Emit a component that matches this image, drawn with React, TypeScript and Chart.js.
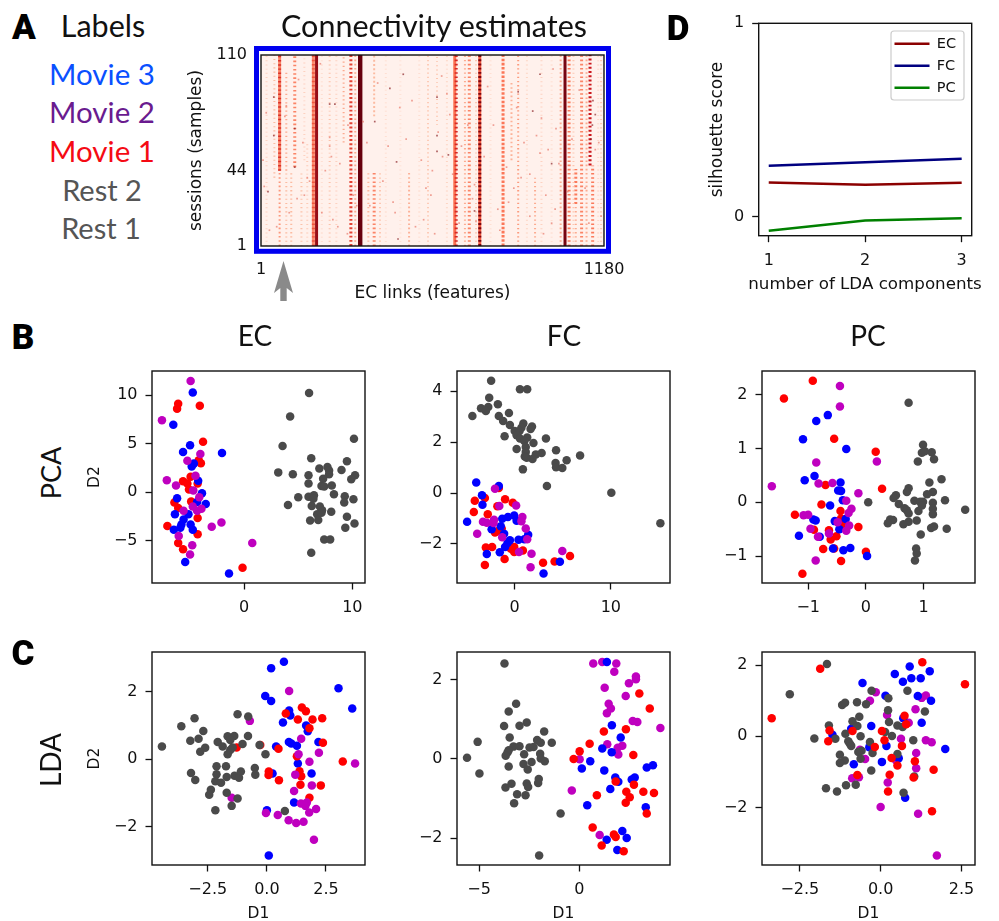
import React, { useEffect, useRef } from "react";
import { Chart, registerables } from "chart.js";

Chart.register(...registerables);

type Pt = number[];

// ---------- Panel B, EC ----------
const pcaEcRest: Pt[] = [[6.0,10.2],[4.25,7.8],[3.55,4.75],[10.15,5.5],[6.2,3.5],[9.5,3.2],[3.15,2.05],[4.5,1.85],[5.95,1.75],[6.95,2.45],[7.7,2.6],[7.85,2.25],[9.0,2.3],[7.85,1.85],[7.3,1.4],[10.25,1.75],[9.9,1.35],[5.95,0.9],[7.15,0.65],[7.4,0.6],[8.1,0.7],[8.3,-0.2],[5.0,-0.5],[5.95,-0.45],[6.45,-0.3],[6.4,-0.65],[9.3,-0.4],[10.1,-0.7],[9.25,-1.05],[4.05,-1.3],[6.25,-1.4],[7.0,-1.45],[7.2,-1.85],[8.05,-2.0],[6.75,-2.25],[9.5,-2.5],[6.1,-2.9],[6.85,-2.85],[10.2,-3.2],[9.35,-3.65],[7.4,-4.85],[7.95,-4.85],[6.2,-6.2],[7.15,-2.1]];
const pcaEcMovie1: Pt[] = [[-6.1,9.1],[-6.2,8.6],[-4.1,8.9],[-3.8,5.2],[-4.2,3.3],[-4.0,3.0],[-4.95,1.6],[-5.65,1.15],[-5.25,0.9],[-4.3,0.9],[-5.1,0.3],[-6.45,-1.05],[-6.1,-1.6],[-4.9,-0.95],[-4.3,-2.65],[-7.1,-3.45],[-4.3,-4.3],[-6.1,-5.2],[-5.65,-5.85],[-0.15,-7.75]];
const pcaEcMovie3: Pt[] = [[-4.75,10.25],[-6.55,6.95],[-5.0,4.85],[-5.65,4.15],[-2.05,4.05],[-4.65,2.95],[-4.85,2.65],[-4.25,1.2],[-3.9,-0.1],[-6.2,-0.6],[-4.35,-1.0],[-3.55,-1.2],[-6.4,-2.25],[-5.15,-2.25],[-5.6,-2.8],[-5.8,-3.3],[-4.95,-3.3],[-6.5,-3.85],[-5.9,-3.65],[-4.75,-3.85],[-5.45,-7.15],[-1.4,-8.35]];
const pcaEcMovie2: Pt[] = [[-4.95,11.45],[-7.6,7.4],[-5.25,3.25],[-4.05,3.95],[-7.15,1.25],[-6.3,0.7],[-4.5,1.7],[-4.7,0.2],[-4.15,-0.5],[-4.75,-1.45],[-3.95,-1.7],[-4.35,-1.9],[-5.6,-1.9],[-2.1,-3.1],[-3.0,-3.55],[-6.05,-4.5],[-4.8,-5.45],[-5.0,-6.4],[0.75,-5.2]];

// ---------- Panel B, FC ----------
const pcaFcRest: Pt[] = [[-2.45,4.42],[0.55,4.08],[1.3,4.08],[-2.65,3.75],[-1.75,3.49],[-3.5,3.33],[-2.75,3.38],[-3.0,3.23],[-4.4,3.03],[-0.6,3.15],[-1.65,3.03],[-1.2,2.83],[-0.5,2.68],[0.9,2.73],[0.7,2.57],[1.8,2.62],[1.65,2.52],[0,2.44],[0.5,2.44],[-1.05,2.23],[0.2,2.27],[0.55,2.14],[1.3,2.18],[3.25,2.14],[1.0,2.05],[1.95,1.97],[0.2,1.73],[1.15,1.81],[1.15,1.61],[4.3,1.68],[2.8,1.57],[2.2,1.52],[6.8,1.48],[1.05,1.44],[1.85,1.34],[1.25,1.39],[5.4,1.29],[4.25,1.18],[4.3,1.01],[4.95,0.98],[0.85,0.93],[3.35,0.28],[10.05,0.01],[15.15,-1.19]];
const pcaFcMovie1: Pt[] = [[-1.65,0.2],[-3.1,-0.2],[-4.15,-0.3],[-1.0,-0.25],[-0.2,-0.38],[-1.8,-0.52],[-4.25,-0.75],[-2.8,-0.84],[-2.05,-1.55],[-1.35,-1.4],[-3.0,-2.14],[-2.35,-2.12],[-0.05,-2.12],[-0.4,-2.19],[-0.05,-2.32],[0.85,-2.26],[-1.05,-2.6],[-3.1,-2.83],[2.95,-2.74],[4.15,-2.69],[5.75,-2.48],[-1.8,-1.5]];
const pcaFcMovie3: Pt[] = [[-4.0,0.41],[-1.65,0.28],[-3.4,-0.09],[-3.35,-0.46],[-4.95,-1.13],[-0.05,-0.88],[-0.7,-0.94],[-1.3,-1.01],[0.2,-1.09],[-1.45,-1.31],[-2.4,-1.43],[-1.1,-1.6],[1.4,-1.64],[0.4,-1.84],[1.0,-1.82],[-0.5,-1.86],[-0.75,-1.97],[-1.0,-2.12],[-1.55,-2.33],[-2.9,-2.4],[4.7,-2.7],[3.0,-3.17]];
const pcaFcMovie2: Pt[] = [[-2.05,0.17],[-1.6,-0.51],[0.15,-0.49],[0.8,-0.94],[-3.3,-1.13],[-2.9,-1.17],[-2.15,-1.05],[-2.2,-1.18],[0.7,-1.11],[1.15,-1.4],[-3.9,-1.6],[-1.3,-1.74],[1.3,-1.82],[0.45,-2.32],[1.75,-2.39],[4.95,-2.28],[1.65,-2.92]];

// ---------- Panel B, PC ----------
const pcaPcRest: Pt[] = [[0.74,1.85],[0.99,1.07],[1.14,0.93],[0.97,0.92],[1.02,0.95],[1.18,0.8],[0.9,0.76],[1.31,0.43],[1.1,0.37],[0.74,0.26],[0.71,0.19],[1.16,0.19],[1.06,0.15],[0.52,0.13],[0.48,0.08],[0.04,0],[0.84,0.03],[1.37,0.04],[1.16,-0.01],[0.99,0.01],[0.94,0.01],[0.57,-0.03],[0.97,-0.06],[0.91,-0.16],[0.67,-0.11],[0.71,-0.15],[1.16,-0.12],[1.72,-0.14],[0.74,-0.21],[1.16,-0.22],[0.42,-0.32],[0.47,-0.33],[0.38,-0.39],[0.88,-0.34],[0.74,-0.36],[0.65,-0.41],[1.18,-0.45],[1.13,-0.48],[1.4,-0.49],[0.95,-0.6],[0.87,-0.86],[0.88,-0.95],[0.85,-1.08]];
const pcaPcMovie1: Pt[] = [[-0.92,2.26],[-1.42,1.93],[-0.55,1.18],[0.17,0.94],[-0.7,0.32],[0.28,0.25],[-0.77,-0.04],[-1.23,-0.23],[-0.44,-0.16],[-0.43,-0.3],[-0.13,-0.46],[-0.9,-0.51],[-0.64,-0.52],[-0.51,-0.63],[-0.61,-0.69],[-0.74,-0.87],[-0.55,-0.86],[0,-0.92],[-0.43,-1.09],[-1.1,-1.33],[-0.38,-0.42]];
const pcaPcMovie3: Pt[] = [[-0.66,1.62],[-0.86,1.51],[-1.09,1.17],[-0.34,0.99],[-0.89,0.49],[-1.06,0.41],[-0.44,0.37],[-0.48,0.22],[-0.43,0.21],[-0.4,0.04],[-0.62,-0.06],[-0.91,-0.32],[-0.87,-0.34],[-0.54,-0.35],[-0.35,-0.31],[-0.46,-0.5],[-1.16,-0.62],[-0.8,-0.64],[-0.57,-0.86],[-0.39,-0.89],[-0.27,-0.85],[0.02,-1.0]];
const pcaPcMovie2: Pt[] = [[-0.45,2.16],[-0.45,1.78],[-0.86,0.74],[0.19,0.76],[-1.63,0.3],[-0.82,0.35],[-0.58,0.36],[-0.13,0.17],[-0.34,0.03],[-0.25,-0.12],[-0.3,-0.2],[-1.08,-0.24],[-1.0,-0.23],[-0.49,-0.37],[-0.29,-0.43],[-0.34,-0.53],[-0.96,-0.49],[-0.64,-0.58],[-0.83,-0.64],[-0.87,-1.08]];

// ---------- Panel C, EC ----------
const ldaEcRest: Pt[] = [[-4.44,0.38],[-3.62,0.98],[-3.06,1.22],[-2.69,0.84],[-2.89,0.61],[-3.24,0.55],[-2.61,0.34],[-2.82,0.22],[-2.08,0.51],[-1.87,0.38],[-1.66,0.68],[-1.38,0.69],[-1.55,0.57],[-1.24,1.34],[-0.79,1.27],[-0.8,0.69],[-1.03,0.45],[-1.45,0.35],[-1.55,0.27],[-1.66,0.15],[-0.31,0.42],[-0.06,0.15],[-2.13,-0.21],[-1.73,-0.21],[-3.21,-0.41],[-2.13,-0.45],[-3.03,-0.62],[-1.7,-0.53],[-2.18,-0.66],[-1.94,-0.7],[-1.37,-0.49],[-1.18,-0.55],[-1.1,-0.37],[-0.51,-0.26],[-0.49,-0.46],[-2.37,-0.91],[-2.44,-1.06],[-1.7,-1.0],[-1.24,-1.17],[-1.49,-1.39],[-2.18,-1.52],[0.76,-1.54]];
const ldaEcMovie1: Pt[] = [[-1.28,0.35],[-0.28,0.42],[0.49,0.31],[0.8,1.36],[1.48,1.54],[1.65,1.43],[1.31,1.18],[1.93,1.18],[2.34,1.22],[1.8,0.92],[2.37,0.49],[1.27,0.09],[3.21,-0.07],[0.08,-0.37],[0.07,-0.47],[0.51,-0.63],[1.38,-0.36],[1.45,-0.51],[1.42,-0.76],[2.28,-0.78],[1.8,-1.15]];
const ldaEcMovie3: Pt[] = [[0.72,2.9],[0.18,2.71],[3.03,2.11],[-0.07,1.88],[0.18,1.73],[3.61,1.51],[0.94,1.45],[0.99,1.3],[0.68,1.09],[1.66,1.0],[1.73,0.83],[0.93,0.51],[1.03,0.47],[1.27,0.4],[2.18,0.51],[0.39,0.38],[1.31,-0.13],[0.24,-0.43],[1.89,-0.43],[1.15,-1.29],[0,-1.52],[0.08,-2.87]];
const ldaEcMovie2: Pt[] = [[-0.72,1.14],[0.94,2.03],[1.45,0.61],[1.34,0.15],[2.2,0.19],[1.8,-0.08],[3.73,-0.13],[1.2,-0.46],[1.9,-0.78],[1.15,-0.95],[-1.49,-1.15],[1.44,-1.32],[1.69,-1.29],[1.63,-1.39],[2.08,-1.48],[-0.04,-1.6],[0.46,-1.66],[1.79,-1.59],[0.92,-1.82],[1.24,-1.9],[1.55,-1.86],[1.99,-2.4]];

// ---------- Panel C, FC ----------
const ldaFcRest: Pt[] = [[-3.73,2.41],[-3.15,1.39],[-3.52,1.2],[-2.62,0.92],[-3.75,0.83],[-2.98,0.84],[-1.75,0.69],[-3.47,0.54],[-5.07,0.43],[-2.1,0.48],[-1.92,0.41],[-1.37,0.41],[-3.28,0.31],[-2.98,0.32],[-2.48,0.29],[-2.28,0.3],[-3.52,0.22],[-3.58,0.16],[-3.67,0.08],[-2.75,0.12],[-1.95,0.13],[-5.6,0.03],[-1.92,0.01],[-1.72,-0.06],[-2.38,-0.08],[-2.78,-0.13],[-3.52,-0.19],[-2.57,-0.27],[-4.98,-0.37],[-2.02,-0.51],[-2.05,-0.61],[-3.38,-0.63],[-3.68,-0.72],[-2.62,-0.62],[-2.55,-0.71],[-3.1,-0.89],[-2.68,-0.92],[-3.25,-1.12],[-0.93,-1.38],[-2.0,-2.44]];
const ldaFcMovie1: Pt[] = [[3.0,1.65],[3.52,1.27],[2.33,0.75],[1.23,0.69],[0.52,0.38],[0.02,0.19],[-0.28,0],[2.7,0.1],[1.82,-0.57],[2.73,-0.65],[0.88,-0.92],[2.35,-0.83],[2.52,-0.97],[3.2,-0.83],[3.73,-0.86],[2.32,-1.11],[3.37,-1.38],[0.67,-1.73],[1.73,-1.91],[1.82,-1.97],[1.12,-2.19],[2.22,-2.33]];
const ldaFcMovie3: Pt[] = [[1.38,2.45],[1.63,0.85],[2.07,0.54],[1.15,0.26],[1.62,0.17],[0.55,-0.06],[0.13,-0.24],[1.25,-0.29],[3.37,-0.22],[3.68,-0.16],[1.8,-0.47],[1.95,-0.58],[2.62,-0.52],[2.77,-0.47],[1.55,-0.76],[0.4,-1.17],[3.32,-1.22],[2.15,-1.82],[2.37,-2.0],[1.37,-2.04],[1.9,-2.3]];
const ldaFcMovie2: Pt[] = [[0.7,2.41],[1.15,2.45],[1.85,2.41],[1.75,2.2],[2.83,2.08],[2.83,2.01],[2.48,1.91],[1.27,1.8],[2.32,1.59],[1.47,1.39],[1.58,1.27],[1.38,1.15],[2.67,0.96],[2.9,0.93],[4.05,0.78],[1.4,0.37],[2.15,0.33],[1.92,0.28],[1.95,0.11],[0.02,-0.01],[-0.37,-0.8],[1.02,-1.92]];

// ---------- Panel C, PC ----------
const ldaPcRest: Pt[] = [[-1.66,2.03],[-2.81,1.18],[-0.28,1.28],[0.83,1.28],[0.24,1.07],[-1.19,0.88],[-1.1,0.94],[-0.73,0.96],[-0.45,0.9],[0.23,0.73],[1.37,0.7],[-0.66,0.55],[-0.87,0.42],[0.26,0.4],[-0.72,0.29],[-1.6,0.3],[0.52,0.3],[0.68,0.26],[0.14,0.12],[-1.09,0.07],[-0.62,0],[0.35,0.01],[-2.05,-0.06],[-1.4,-0.07],[-1.0,-0.14],[-0.95,-0.21],[-0.91,-0.27],[1.01,-0.11],[-0.33,-0.16],[-0.59,-0.41],[-0.69,-0.44],[-0.25,-0.47],[-1.26,-0.52],[0.52,-0.5],[-1.11,-0.68],[-1.26,-0.75],[-0.62,-0.63],[-0.29,-0.96],[1.04,-1.13],[-1.69,-1.46],[-1.35,-1.55],[-1.07,-1.38],[-0.77,-1.36],[0.71,-1.59]];
const ldaPcMovie1: Pt[] = [[-1.87,1.9],[-3.37,0.51],[1.29,2.08],[2.61,1.46],[0.74,0.58],[0.79,0.34],[-1.58,0.16],[-0.87,0.15],[0.04,0.15],[-1.62,-0.14],[0.12,-0.11],[-0.18,-0.3],[0.66,-0.27],[0.34,-0.61],[1.06,-0.7],[0.52,-0.82],[1.64,-0.94],[-0.72,-1.09],[0.28,-1.08],[1.02,-1.16],[0.23,-1.55],[1.59,-2.11]];
const ldaPcMovie3: Pt[] = [[0.9,1.96],[1.52,1.83],[0.44,1.75],[0.95,1.63],[1.24,1.63],[0.69,1.53],[-0.56,1.5],[0.15,1.14],[1.15,1.13],[1.56,1.0],[0.7,0.51],[1.27,0.38],[-0.29,0.29],[-0.91,0.21],[-1.49,0.04],[0.18,-0.27],[2.0,-0.36],[-0.35,-0.31],[0.56,-0.62],[0.04,-0.72],[-0.83,-0.79],[0.76,-1.73]];
const ldaPcMovie2: Pt[] = [[-0.15,1.24],[-0.33,1.0],[1.4,1.15],[1.27,1.08],[1.08,0.76],[0.2,0.6],[0.87,0.38],[0.63,-0.07],[1.4,-0.11],[1.58,-0.17],[-0.64,-0.38],[1.1,-0.47],[-0.48,-0.64],[0.48,-0.68],[1.1,-0.9],[-0.88,-1.18],[-0.67,-1.15],[0.22,-1.3],[0,-1.99],[1.16,-2.18],[1.74,-3.35]];

// ---------- Panel D ----------
const ldaComponents = [1, 2, 3];
const silhouetteEc = [0.176, 0.164, 0.174];
const silhouetteFc = [0.262, 0.28, 0.299];
const silhouettePc = [-0.074, -0.021, -0.009];

// ---------- Panel A, heat map ----------
const stripeFeature = [65, 65, 65, 47, 88, 88, 117, 181, 181, 192, 237, 285, 310, 342, 390, 390, 370, 410, 510, 545, 575, 606, 667, 672, 702, 717, 753, 753, 833, 862, 885, 943, 1031, 1046, 1060, 1083, 1083, 1103, 1132, 1141, 1160, 20, 105, 140, 160, 150, 210, 260, 325, 430, 480, 640, 740, 790, 915, 965, 1000, 1075, 1120, 1170];
const stripeFrom = [44, 44, 1, 40, 44, 1, 46, 1, 1, 1, 1, 60, 1, 1, 75, 1, 1, 1, 1, 1, 1, 70, 1, 1, 1, 1, 1, 1, 1, 50, 1, 1, 1, 1, 1, 25, 1, 1, 47, 1, 1, 1, 1, 1, 1, 50, 1, 1, 1, 1, 1, 1, 1, 1, 1, 1, 1, 1, 1, 1];
const stripeTo = [110, 110, 44, 110, 100, 44, 110, 110, 110, 110, 110, 110, 110, 110, 110, 44, 44, 44, 44, 110, 110, 110, 110, 110, 110, 110, 110, 110, 110, 95, 110, 40, 110, 110, 110, 45, 25, 110, 110, 47, 110, 110, 44, 44, 60, 110, 110, 110, 110, 110, 110, 110, 110, 110, 110, 110, 110, 110, 110, 110];
const stripeLevel = [0.42, 0.68, 0.36, 0.25, 0.3, 0.25, 0.42, 0.4, 0.56, 0.88, 0.22, 0.3, 0.62, 1, 0.25, 0.42, 0.25, 0.2, 0.28, 0.12, 0.18, 0.2, 0.48, 0.7, 0.3, 0.42, 0.55, 0.95, 0.46, 0.28, 0.35, 0.3, 0.3, 0.96, 0.45, 0.45, 0.3, 0.42, 0.75, 0.45, 0.15, 0.15, 0.25, 0.22, 0.18, 0.15, 0.12, 0.15, 0.3, 0.12, 0.1, 0.14, 0.2, 0.12, 0.14, 0.15, 0.12, 0.2, 0.3, 0.2];
const stripeCover = [1, 0.45, 0.5, 0.35, 0.4, 0.35, 0.5, 1, 0.45, 1, 0.3, 0.4, 0.6, 1, 0.6, 0.5, 0.4, 0.4, 0.5, 0.25, 0.4, 0.3, 1, 0.5, 0.4, 0.5, 1, 0.6, 0.8, 0.5, 0.4, 0.4, 0.5, 1, 0.5, 0.6, 0.4, 0.5, 0.6, 0.5, 0.25, 0.3, 0.4, 0.35, 0.3, 0.3, 0.25, 0.3, 0.5, 0.25, 0.25, 0.3, 0.35, 0.25, 0.3, 0.3, 0.25, 0.35, 0.5, 0.35];
const darkSpeckFeature = [45, 45, 25, 237, 255, 117, 117, 392, 444, 490, 467, 472, 606, 606, 606, 645, 885, 935, 960, 1000, 735, 1135, 1140, 1150, 1142];
const darkSpeckSession = [86, 64, 32, 82, 82, 68, 46, 72, 91, 99, 49, 5, 86, 64, 55, 53, 89, 78, 99, 48, 21, 62, 70, 76, 84];
const speckFeature = [88, 83, 237, 243, 237, 19, 8, 150, 210, 265, 330, 365, 420, 455, 520, 560, 590, 610, 625, 640, 650, 690, 735, 780, 800, 815, 845, 880, 905, 925, 960, 980, 1000, 1015, 1025, 1070, 1095, 1115, 1150, 1170, 30, 130, 160, 205, 300, 500, 585, 740, 870, 965, 1005, 12, 55, 98, 125, 145, 168, 222, 248, 272, 298, 318, 352, 375, 402, 438, 462, 478, 532, 552, 568, 598, 622, 660, 682, 712, 728, 768, 822, 852, 895, 925, 948, 972, 988, 1012, 1055, 1105, 1128, 1162];
const speckSession = [81, 75, 58, 52, 63, 77, 50, 30, 20, 12, 24, 60, 38, 26, 84, 16, 44, 66, 52, 88, 76, 58, 36, 92, 70, 22, 46, 80, 60, 42, 54, 30, 14, 68, 48, 62, 90, 34, 56, 18, 10, 96, 40, 105, 70, 62, 30, 15, 34, 74, 102, 35, 12, 20, 28, 60, 38, 44, 16, 48, 8, 30, 72, 24, 94, 58, 20, 80, 12, 50, 34, 8, 98, 42, 14, 70, 28, 52, 10, 26, 40, 18, 64, 8, 56, 22, 32, 78, 14, 60];
const heatXTicks = [1, 1180];
const heatYTicks = [1, 44, 110];

// ---------- Colours and layout ----------
const REST = "#4a4a4a";
const MOVIE1 = "#ff0000";
const MOVIE2 = "#bf00bf";
const MOVIE3 = "#0000ff";
const INK = "#111111";
const TICK_FONT = { family: "'DejaVu Sans'", size: 16 };

const colStops: [number, number, number, number][] = [
  [0, 255, 245, 240],
  [0.25, 252, 187, 161],
  [0.5, 251, 106, 74],
  [0.75, 203, 24, 29],
  [1, 103, 0, 13],
];
function reds(v: number) {
  for (let i = 1; i < colStops.length; i++) {
    if (v <= colStops[i][0]) {
      const a = colStops[i - 1];
      const b = colStops[i];
      const t = (v - a[0]) / (b[0] - a[0]);
      const m = (k: number) => Math.round(a[k] + (b[k] - a[k]) * t);
      return `rgb(${m(1)},${m(2)},${m(3)})`;
    }
  }
  return "rgb(103,0,13)";
}

const signed = (v: number, decimals: number) => v.toFixed(decimals).replace("-", "\u2212");

function boxPlugin(extra?: (ctx: any, area: any) => void, before?: (ctx: any, area: any) => void) {
  return {
    id: "box",
    beforeDraw(chart: any) {
      if (before) before(chart.ctx, chart.chartArea);
    },
    afterDatasetsDraw(chart: any) {
      const { ctx, chartArea: a } = chart;
      ctx.save();
      ctx.strokeStyle = INK;
      ctx.lineWidth = 1.4;
      ctx.strokeRect(a.left, a.top, a.right - a.left, a.bottom - a.top);
      ctx.restore();
      if (extra) extra(ctx, a);
    },
  };
}

function axis(opts: any) {
  const { range, ticks, decimals = 0, size, fitKey, title, titlePad, titleSize = 15.5, tickLength = 6.5, padding = 8 } = opts;
  return {
    type: "linear",
    min: range[0],
    max: range[1],
    afterBuildTicks: (s: any) => {
      s.ticks = ticks.map((value: number) => ({ value }));
    },
    afterFit: (s: any) => {
      s[fitKey] = size;
    },
    border: { display: false },
    grid: {
      drawOnChartArea: false,
      drawTicks: tickLength > 0,
      tickLength,
      tickColor: INK,
      tickWidth: 1.3,
    },
    ticks: {
      autoSkip: false,
      maxRotation: 0,
      padding,
      color: INK,
      font: TICK_FONT,
      callback: (v: number) => signed(v, decimals),
    },
    title: title
      ? { display: true, text: title, color: INK, font: { family: "'DejaVu Sans'", size: titleSize }, padding: titlePad }
      : { display: false },
  };
}

const M = { left: 85, top: 20, right: 25, bottom: 58 };

function scatterPanel(spec: any) {
  const [L, T, R, B] = spec.plot;
  const rect = { left: L - M.left, top: T - M.top, width: R - L + M.left + M.right, height: B - T + M.top + M.bottom };
  const config = {
    type: "scatter",
    data: {
      datasets: spec.layers.map(([data, color]: [Pt[], string]) => ({
        data: data.map(([x, y]) => ({ x, y })),
        backgroundColor: color,
        borderWidth: 0,
        pointRadius: 4.25,
      })),
    },
    options: {
      responsive: false,
      maintainAspectRatio: false,
      animation: false,
      events: [],
      layout: { padding: { top: M.top, right: M.right, left: 0, bottom: 0 } },
      plugins: { legend: { display: false }, tooltip: { enabled: false } },
      scales: {
        x: axis({ range: spec.xRange, ticks: spec.xTicks, decimals: spec.xDecimals, size: M.bottom, fitKey: "height", title: spec.xTitle, titlePad: { bottom: 0, top: 0 }, padding: 9 }),
        y: axis({ range: spec.yRange, ticks: spec.yTicks, size: M.left, fitKey: "width", title: spec.yTitle, titlePad: { top: 19, bottom: 0 } }),
      },
    },
    plugins: [boxPlugin()],
  };
  return { rect, config };
}

const panels = [
  { plot: [151.7, 370.7, 365, 582.7], xRange: [-8.52, 11.17], yRange: [-9.32, 12.47], xTicks: [0, 10], yTicks: [-5, 0, 5, 10], yTitle: "D2",
    layers: [[pcaEcMovie2, MOVIE2], [pcaEcMovie3, MOVIE3], [pcaEcMovie1, MOVIE1], [pcaEcRest, REST]] },
  { plot: [457, 370.7, 669.7, 582.7], xRange: [-6.0, 16.15], yRange: [-3.54, 4.8], xTicks: [0, 10], yTicks: [-2, 0, 2, 4],
    layers: [[pcaFcMovie2, MOVIE2], [pcaFcMovie3, MOVIE3], [pcaFcMovie1, MOVIE1], [pcaFcRest, REST]] },
  { plot: [762.3, 370.7, 975, 582.7], xRange: [-1.8, 1.89], yRange: [-1.5, 2.44], xTicks: [-1, 0, 1], yTicks: [-1, 0, 1, 2],
    layers: [[pcaPcMovie2, MOVIE2], [pcaPcMovie3, MOVIE3], [pcaPcMovie1, MOVIE1], [pcaPcRest, REST]] },
  { plot: [151.7, 652, 365, 864.7], xRange: [-4.86, 4.15], yRange: [-3.15, 3.19], xTicks: [-2.5, 0, 2.5], xDecimals: 1, yTicks: [-2, 0, 2], xTitle: "D1", yTitle: "D2",
    layers: [[ldaEcRest, REST], [ldaEcMovie2, MOVIE2], [ldaEcMovie1, MOVIE1], [ldaEcMovie3, MOVIE3]] },
  { plot: [457, 652, 669.7, 864.7], xRange: [-6.1, 4.53], yRange: [-2.68, 2.7], xTicks: [-5, 0], yTicks: [-2, 0, 2], xTitle: "D1",
    layers: [[ldaFcMovie1, MOVIE1], [ldaFcMovie3, MOVIE3], [ldaFcMovie2, MOVIE2], [ldaFcRest, REST]] },
  { plot: [762.3, 652, 975, 864.7], xRange: [-3.67, 2.92], yRange: [-3.62, 2.37], xTicks: [-2.5, 0, 2.5], xDecimals: 1, yTicks: [-2, 0, 2], xTitle: "D1",
    layers: [[ldaPcMovie1, MOVIE1], [ldaPcRest, REST], [ldaPcMovie3, MOVIE3], [ldaPcMovie2, MOVIE2]] },
];

function linePanel() {
  const rect = { left: 660, top: 0, width: 338, height: 300 };
  const plot = { L: 758.7, T: 23.3, R: 971.7, B: 235.7 };
  const series: [string, number[], string][] = [
    ["EC", silhouetteEc, "#8b0000"],
    ["FC", silhouetteFc, "#000080"],
    ["PC", silhouettePc, "#008000"],
  ];
  const config = {
    type: "line",
    data: {
      datasets: series.map(([label, vals, color]) => ({
        label,
        data: vals.map((y, i) => ({ x: ldaComponents[i], y })),
        borderColor: color,
        backgroundColor: color,
        borderWidth: 2.5,
        pointRadius: 0,
        tension: 0,
      })),
    },
    options: {
      responsive: false,
      maintainAspectRatio: false,
      animation: false,
      events: [],
      layout: { padding: { top: plot.T - rect.top, right: rect.left + rect.width - plot.R, left: 0, bottom: 0 } },
      plugins: {
        tooltip: { enabled: false },
        legend: {
          position: "chartArea",
          align: "start",
          labels: { boxWidth: 35, boxHeight: 0, padding: 7.5, color: INK, font: { family: "'DejaVu Sans'", size: 14.5 } },
        },
      },
      scales: {
        x: axis({ range: [0.896, 3.104], ticks: ldaComponents, size: rect.top + rect.height - plot.B, fitKey: "height", padding: 9 }),
        y: axis({ range: [-0.1, 1], ticks: [0, 1], size: plot.L - rect.left, fitKey: "width", title: "silhouette score", titleSize: 17, titlePad: { top: 47, bottom: 0 } }),
      },
    },
    plugins: [
      boxPlugin(undefined, (ctx) => {
        ctx.save();
        ctx.fillStyle = "#fff";
        ctx.strokeStyle = "#cccccc";
        ctx.lineWidth = 1.2;
        ctx.beginPath();
        ctx.roundRect(891 - rect.left, 31 - rect.top, 73, 69, 3);
        ctx.fill();
        ctx.stroke();
        ctx.restore();
      }),
      {
        id: "legendPlace",
        afterLayout(chart: any) {
          const l = chart.legend;
          l.left = 887 - rect.left;
          l.right = 972 - rect.left;
          l.top = 29 - rect.top;
          l.bottom = 112 - rect.top;
        },
      },
    ],
  };
  return { rect, config };
}

function heatPanel() {
  const rect = { left: 186, top: 25, width: 464, height: 285 };
  const plot = { L: 261, T: 55, R: 604, B: 246 };
  const stripes = stripeFeature.map((f, i) => {
    const level = stripeLevel[i];
    const cover = stripeCover[i];
    const on = Math.max(0.8, cover * 3.2);
    return {
      type: "scatter",
      showLine: true,
      data: [
        { x: f, y: stripeFrom[i] },
        { x: f, y: stripeTo[i] },
      ],
      borderColor: reds(level),
      borderWidth: level >= 1 ? 4.4 : level >= 0.4 ? 3 : 2,
      borderDash: cover >= 0.9 ? [] : [on, 3.6 - on + 0.6],
      pointRadius: 0,
    };
  });
  const specks = {
    type: "scatter",
    data: speckFeature.map((x, i) => ({ x, y: speckSession[i] })),
    backgroundColor: "rgba(226,90,72,0.55)",
    borderWidth: 0,
    pointStyle: "rect",
    pointRadius: 1.2,
  };
  const darkSpecks = {
    type: "scatter",
    data: darkSpeckFeature.map((x, i) => ({ x, y: darkSpeckSession[i] })),
    backgroundColor: "rgba(130,20,25,0.65)",
    borderWidth: 0,
    pointStyle: "rect",
    pointRadius: 1.2,
  };
  const config = {
    type: "scatter",
    data: { datasets: [darkSpecks, specks, ...stripes.slice().reverse()] },
    options: {
      responsive: false,
      maintainAspectRatio: false,
      animation: false,
      events: [],
      layout: { padding: { top: plot.T - rect.top, right: rect.left + rect.width - plot.R, left: 0, bottom: 0 } },
      plugins: { legend: { display: false }, tooltip: { enabled: false } },
      scales: {
        x: axis({ range: [1, 1180], ticks: heatXTicks, size: rect.top + rect.height - plot.B, fitKey: "height", title: "EC links (features)", titleSize: 17, titlePad: { bottom: 6, top: 0 }, tickLength: 0, padding: 14 }),
        y: axis({ range: [1, 110], ticks: heatYTicks, size: plot.L - rect.left, fitKey: "width", title: "sessions (samples)", titleSize: 17, titlePad: { top: 0, bottom: 0 }, tickLength: 0, padding: 14 }),
      },
    },
    plugins: [
      {
        id: "soften",
        beforeDatasetsDraw(chart: any) {
          chart.ctx.filter = "blur(0.7px)";
        },
        afterDatasetsDraw(chart: any) {
          chart.ctx.filter = "none";
        },
      },
      boxPlugin(
        (ctx) => {
          ctx.save();
          ctx.strokeStyle = "#0000f0";
          ctx.lineWidth = 5;
          ctx.strokeRect(256.5 - rect.left, 48.5 - rect.top, 352, 202.8);
          ctx.fillStyle = "#8a8a8a";
          const ox = 283.5 - rect.left;
          const oy = -rect.top;
          ctx.beginPath();
          ctx.moveTo(ox, oy + 261);
          ctx.lineTo(ox + 9.5, oy + 293);
          ctx.lineTo(ox + 3.2, oy + 288);
          ctx.lineTo(ox + 3.2, oy + 301);
          ctx.lineTo(ox - 3.2, oy + 301);
          ctx.lineTo(ox - 3.2, oy + 288);
          ctx.lineTo(ox - 9.5, oy + 293);
          ctx.closePath();
          ctx.fill();
          ctx.restore();
        },
        (ctx, a) => {
          ctx.save();
          ctx.fillStyle = "#fff1ec";
          ctx.fillRect(a.left, a.top, a.right - a.left, a.bottom - a.top);
          ctx.restore();
        }
      ),
    ],
  };
  return { rect, config };
}

function ChartBox({ build }: { build: () => { rect: any; config: any } }) {
  const ref = useRef<HTMLCanvasElement | null>(null);
  const { rect, config } = build();
  useEffect(() => {
    if (!ref.current) return;
    const chart = new Chart(ref.current, { ...config, options: { ...config.options, devicePixelRatio: 1 } });
    return () => chart.destroy();
  }, []);
  return (
    <canvas
      ref={ref}
      width={Math.round(rect.width)}
      height={Math.round(rect.height)}
      style={{ position: "absolute", left: rect.left, top: rect.top, width: Math.round(rect.width), height: Math.round(rect.height) }}
    />
  );
}

const HEAD = "Lato, 'Noto Sans', sans-serif";
const captions: any[] = [
  { text: "Labels", x: 103, y: 25, size: 30.5, color: "#111" },
  { text: "Connectivity estimates", x: 434, y: 25, size: 30.5, color: "#111" },
  { text: "Movie 3", x: 102, y: 74, size: 29.5, color: "#0a50ff" },
  { text: "Movie 2", x: 102, y: 112, size: 29.5, color: "#6a1b8f" },
  { text: "Movie 1", x: 102, y: 151, size: 29.5, color: "#f50a14" },
  { text: "Rest 2", x: 102, y: 188.5, size: 29, color: "#555" },
  { text: "Rest 1", x: 101, y: 227, size: 29, color: "#555" },
  { text: "EC", x: 255, y: 335, size: 28, color: "#111" },
  { text: "FC", x: 564, y: 335, size: 28, color: "#111" },
  { text: "PC", x: 868, y: 335, size: 28, color: "#111" },
  { text: "PCA", x: 50, y: 473, size: 27, color: "#111", rotate: -90 },
  { text: "LDA", x: 50, y: 760, size: 28, color: "#111", rotate: -90 },
  { text: "A", x: 24, y: 27, size: 35, color: "#000", bold: true },
  { text: "D", x: 678, y: 28, size: 35, color: "#000", bold: true },
  { text: "B", x: 23, y: 337, size: 35, color: "#000", bold: true },
  { text: "C", x: 23, y: 653, size: 35, color: "#000", bold: true },
  { text: "number of LDA components", x: 865, y: 283, size: 16.7, color: INK, family: "'DejaVu Sans'" },
];

export default function App() {
  return (
    <div style={{ position: "absolute", left: 0, top: 0, width: 999, height: 921, background: "#fff", overflow: "hidden" }}>
      <ChartBox build={heatPanel} />
      <ChartBox build={linePanel} />
      {panels.map((p, i) => (
        <ChartBox key={i} build={() => scatterPanel(p)} />
      ))}
      {captions.map((c) => (
        <div
          key={c.text}
          style={{
            position: "absolute",
            left: c.x,
            top: c.y,
            transform: `translate(-50%,-50%)${c.rotate ? ` rotate(${c.rotate}deg)` : ""}`,
            fontFamily: c.family || (c.bold ? "Roboto, sans-serif" : HEAD),
            fontWeight: c.bold ? 900 : 400,
            fontSize: c.size,
            lineHeight: 1,
            color: c.color,
            whiteSpace: "nowrap",
          }}
        >
          {c.text}
        </div>
      ))}
    </div>
  );
}
